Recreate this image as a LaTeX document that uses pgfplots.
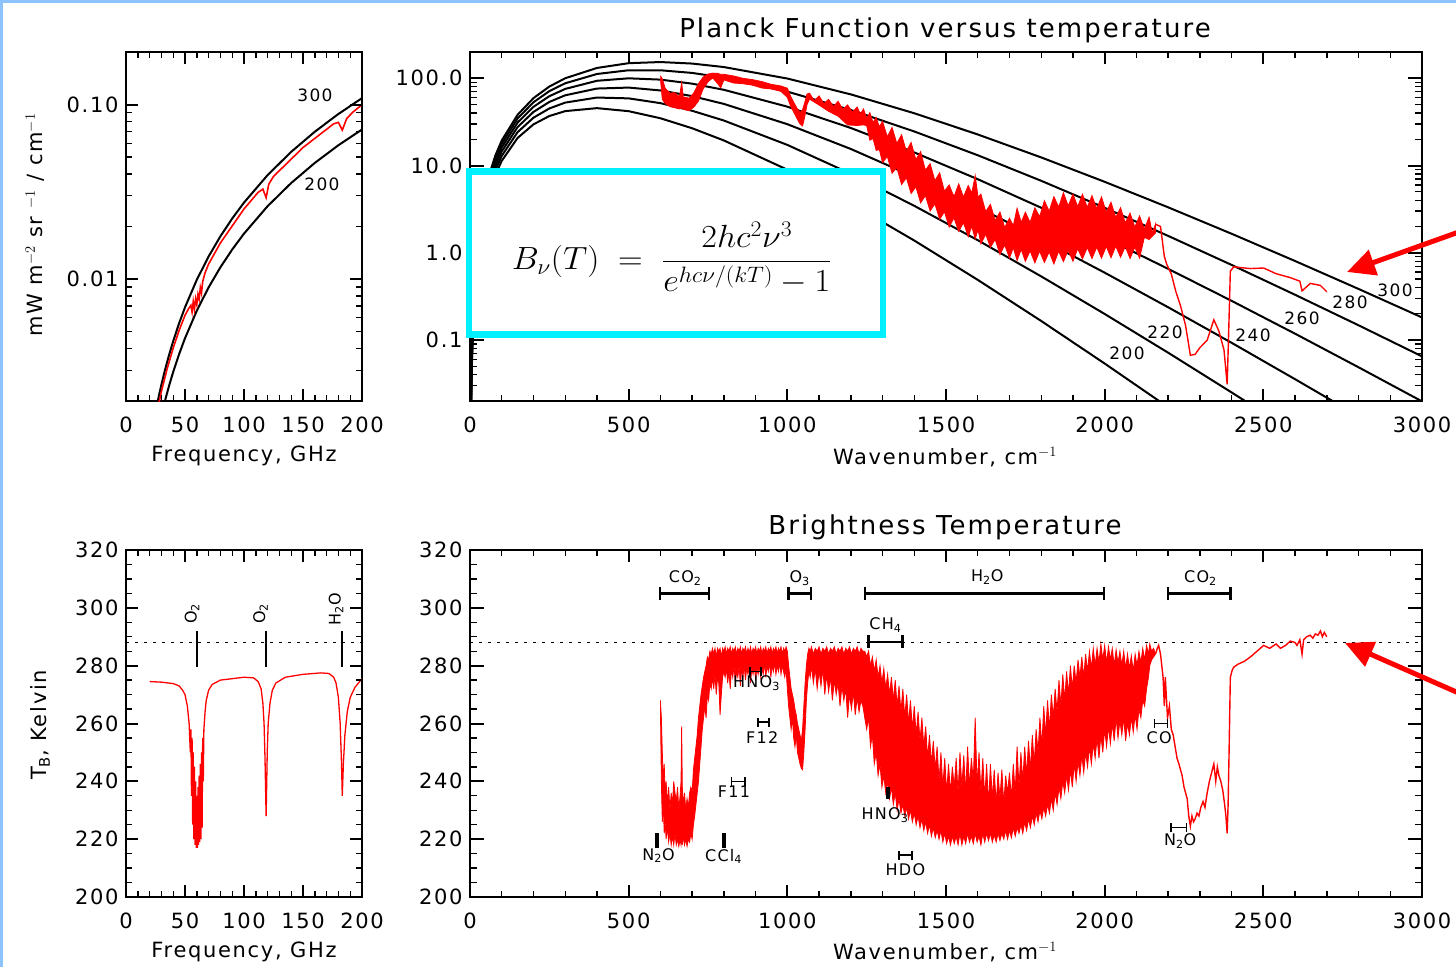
\documentclass[border=0pt]{standalone}
\usepackage{fontspec}
\setmainfont{DejaVu Sans}[LetterSpace=8]
\usepackage{pgfplots}
\pgfplotsset{compat=1.18}
\usetikzlibrary{arrows.meta}

\definecolor{framecol}{RGB}{140,195,250}
\definecolor{boxcyan}{RGB}{0,240,255}

\newcommand\tfs{\fontsize{21}{24}\selectfont}
\newcommand\ttfs{\fontsize{26}{30}\selectfont}
\newcommand\sfs{\fontsize{16}{18}\selectfont}
\newcommand\cfs{\fontsize{17}{19}\selectfont}

\pgfplotsset{
  idl/.style={scale only axis, anchor=south west,
    axis line style={line width=2.4pt},
    tick align=inside, xtick pos=both, ytick pos=both,
    major tick length=12pt, minor tick length=6pt,
    tick style={draw=black, line width=2pt},
    minor tick style={draw=black, line width=1.4pt},
    tick label style={font=\tfs},
    xticklabel style={yshift=-12pt}, yticklabel style={xshift=-4pt},
    /pgf/number format/assume math mode=true,
    /pgf/number format/1000 sep={}},
}
\tikzset{
  band/.style={arrows={Bar[width=13pt]-Bar[width=13pt]}, line width=2.5pt},
  mini/.style={arrows={Bar[width=9pt]-Bar[width=9pt]}, line width=1.6pt},
}

\begin{document}
\begin{tikzpicture}
\useasboundingbox (0pt,0pt) rectangle (1456pt,967pt);
\fill[framecol] (0pt,964pt) rectangle (1456pt,967pt);
\fill[framecol] (0pt,0pt) rectangle (3pt,967pt);

% ---------------- top left: Planck in GHz ----------------
\begin{axis}[idl, at={(126pt,566pt)}, width=236pt, height=349pt,
  xmin=0, xmax=200, xtick={0,50,100,150,200}, minor x tick num=4,
  ymode=log, ymin=0.002, ymax=0.2, ytick={0.01,0.1}, yticklabels={0.01,0.10},
  minor ytick={0.003,0.004,0.005,0.006,0.007,0.008,0.009,0.02,0.03,0.04,0.05,0.06,0.07,0.08,0.09}]
\addplot[black, line width=2pt] coordinates {
(25,0.001724)(28,0.0021616)(30,0.002481)(33,0.0030013)(36,0.003571)(40,0.004407)(45,0.0055757)
(50,0.006881)(60,0.0099)(70,0.013465)(80,0.017573)(90,0.022223)(100,0.027414)(120,0.039414)
(140,0.053561)(160,0.069846)(180,0.08826)(200,0.10879)};
\addplot[black, line width=2pt] coordinates {
(25,0.0011514)(30,0.001652)(32,0.001879)(34,0.002121)(37,0.002511)(40,0.002933)(45,0.00371)
(50,0.004578)(60,0.006585)(70,0.008952)(80,0.011678)(90,0.014762)(100,0.018204)(120,0.026151)
(140,0.03551)(160,0.046271)(180,0.058425)(200,0.071961)};
\addplot[red, line width=1.6pt] coordinates {
(25,0.001576)(30,0.002268)(35,0.003082)(40,0.004021)(45,0.005072)(50,0.00619)(53,0.006746)
(55,0.007069)(56,0.006461)(57,0.007441)(58,0.006712)(59,0.007714)(60,0.007148)(61,0.008176)
(62,0.007666)(63,0.008938)(64,0.008318)(65,0.009669)(67,0.01085)(70,0.01218)(80,0.0161)
(100,0.0252)(112,0.03141)(116,0.03275)(118.75,0.02925)(121,0.03495)(125,0.03872)(150,0.05667)
(176,0.07756)(180,0.07901)(183.3,0.07139)(187,0.08297)(192,0.09014)(200,0.09977)};
\end{axis}

% ---------------- top right: Planck vs wavenumber ----------------
\begin{axis}[idl, at={(470pt,566pt)}, width=952pt, height=349pt,
  xmin=0, xmax=3000, xtick={0,500,...,3000}, minor x tick num=4,
  ymode=log, ymin=0.02, ymax=200, ytick={0.1,1,10,100}, yticklabels={0.1,1.0,10.0,100.0},
  minor ytick={0.03,0.04,0.05,0.06,0.07,0.08,0.09,0.2,0.3,0.4,0.5,0.6,0.7,0.8,0.9,2,3,4,5,6,7,8,9,20,30,40,50,60,70,80,90}]
\addplot[black, line width=2pt] coordinates {(2,0.009886)(5,0.06134)(10,0.2424)(20,0.9465)(30,2.078)(40,3.605)(60,7.715)(80,13.04)(100,19.35)(150,38.16)(200,59.20)(250,80.32)(300,99.99)(400,131.2)(500,148.9)(600,153.4)(700,147.4)(800,134.4)(1000,99.25)(1200,65.38)(1400,39.71)(1600,22.69)(1800,12.38)(2000,6.505)(2200,3.318)(2400,1.651)(2600,0.8042)(2800,0.3849)(3000,0.1814)};
\addplot[black, line width=2pt] coordinates {(2,0.009224)(5,0.0572)(10,0.2259)(20,0.8803)(30,1.929)(40,3.340)(60,7.123)(80,11.99)(100,17.73)(150,34.61)(200,53.09)(250,71.21)(300,87.58)(400,111.9)(500,123.5)(600,123.5)(700,115.1)(800,101.6)(1000,70.28)(1200,43.29)(1400,24.56)(1600,13.11)(1800,6.681)(2000,3.279)(2200,1.561)(2400,0.7254)(2600,0.33)(2800,0.1475)(3000,0.06491)};
\addplot[black, line width=2pt] coordinates {(2,0.008561)(5,0.05307)(10,0.2093)(20,0.8142)(30,1.781)(40,3.076)(60,6.532)(80,10.95)(100,16.11)(150,31.08)(200,47.07)(250,62.27)(300,75.49)(400,93.55)(500,99.86)(600,96.47)(700,86.70)(800,73.75)(1000,47.25)(1200,26.92)(1400,14.12)(1600,6.967)(1800,3.28)(2000,1.487)(2200,0.6546)(2400,0.281)(2600,0.1181)(2800,0.04869)(3000,0.0198)};
\addplot[black, line width=2pt] coordinates {(2,0.007899)(5,0.04893)(10,0.1928)(20,0.748)(30,1.632)(40,2.813)(60,5.943)(80,9.909)(100,14.5)(150,27.57)(200,41.12)(250,53.54)(300,63.8)(400,76.22)(500,78.21)(600,72.49)(700,62.41)(800,50.81)(1000,29.75)(1200,15.47)(1400,7.402)(1600,3.331)(1800,1.43)(2000,0.5913)(2200,0.2373)(2400,0.09289)(2600,0.03555)(2800,0.01341)(3000,0.004972)};
\addplot[black, line width=2pt] coordinates {(2,0.007237)(5,0.04479)(10,0.1762)(20,0.6819)(30,1.484)(40,2.549)(60,5.354)(80,8.87)(100,12.9)(150,24.11)(200,35.31)(250,45.07)(300,52.6)(400,60.11)(500,58.82)(600,51.86)(700,42.41)(800,32.76)(1000,17.23)(1200,8.041)(1400,3.451)(1600,1.393)(1800,0.5361)(2000,0.1988)(2200,0.07155)(2400,0.02507)(2600,0.008632)(2800,0.002914)(3000,0.0009692)};
\addplot[black, line width=2pt] coordinates {(2,0.006575)(5,0.04065)(10,0.1597)(20,0.6158)(30,1.335)(40,2.286)(60,4.766)(80,7.837)(100,11.31)(150,20.7)(200,29.63)(250,36.92)(300,42.01)(400,45.45)(500,41.95)(600,34.8)(700,26.73)(800,19.37)(1000,8.952)(1200,3.668)(1400,1.381)(1600,0.4891)(1800,0.1652)(2000,0.05375)(2200,0.01697)(2400,0.005226)(2600,0.001576)(2800,0.000467)(3000,0.0001359)};
% observed radiance: upper edge, then lower edge backwards
\addplot[red, fill=red, line width=0.8pt] coordinates {
(600,106.9)(606,98.61)(615,76.88)(630,67.55)(645,68.31)(660,61.28)(667,89.11)(672,61.10)(690,59.16)
(705,67.51)(720,86.93)(735,103.3)(750,111.9)(765,114.5)(780,114.0)(790,110.9)(800,111.0)(830,106.3)
(860,99.91)(890,96.51)(920,91.52)(950,85.06)(980,81.57)(1000,76.93)(1010,62.54)(1020,53.14)(1030,45.65)
(1040,40.70)(1048,43.54)(1055,52.94)(1062,66.03)(1070,67.35)(1085,55.3)(1100,62.87)(1115,51.1)
(1130,57.42)(1145,47.5)(1160,54.47)(1175,44.1)(1190,49.50)(1205,40.9)(1220,46.83)(1230,38.8)
(1240,44.45)(1250,34.7)(1260,40.32)(1270,31.1)(1280,35.63)(1290,27.7)(1300,32.12)(1315,21.3)
(1330,27.34)(1345,17.9)(1360,22.52)(1375,14.6)(1390,18.38)(1405,11.7)(1420,14.43)(1435,8.86)
(1450,10.49)(1465,6.70)(1480,8.261)(1495,5.07)(1510,5.991)(1525,4.37)(1540,6.159)(1555,4.34)
(1570,5.899)(1581,4.84)(1592,7.674)(1601,4.32)(1610,4.702)(1625,2.96)(1640,3.587)(1655,2.34)
(1670,2.934)(1685,1.95)(1700,2.488)(1712,2.04)(1724,3.242)(1737,2.22)(1750,2.922)(1765,2.23)
(1780,3.282)(1795,2.59)(1810,3.955)(1825,3.00)(1840,4.399)(1855,3.34)(1870,4.879)(1885,3.45)
(1900,4.700)(1915,3.38)(1930,4.690)(1945,3.32)(1960,4.523)(1975,3.20)(1990,4.364)(2005,2.93)
(2020,3.790)(2035,2.54)(2050,3.286)(2065,2.20)(2080,2.842)(2095,1.97)(2110,2.646)(2125,1.87)
(2140,2.558)(2150,1.68)(2160,2.122)
(2160,1.676)(2140,1.416)(2125,1.50)(2110,0.8680)(2095,1.16)(2080,0.8575)(2065,1.18)(2050,0.8874)
(2035,1.19)(2020,0.8774)(2005,1.18)(1990,0.8675)(1975,1.16)(1960,0.8578)(1945,1.15)(1930,0.8484)
(1915,1.11)(1900,0.7995)(1885,1.07)(1870,0.7906)(1855,1.04)(1840,0.7439)(1825,1.02)(1810,0.7735)
(1795,1.04)(1780,0.7653)(1765,1.05)(1750,0.7969)(1737,1.09)(1724,0.8148)(1712,1.14)(1700,0.8687)
(1685,1.23)(1670,0.9533)(1655,1.42)(1640,1.155)(1625,1.63)(1610,1.267)(1601,1.83)(1592,1.446)
(1581,2.01)(1570,1.528)(1555,2.21)(1540,1.756)(1525,2.51)(1510,1.970)(1495,2.95)(1480,2.416)
(1465,3.64)(1450,3.012)(1435,4.52)(1420,3.729)(1405,5.70)(1390,4.773)(1375,7.25)(1360,6.051)
(1345,9.48)(1330,8.152)(1315,12.7)(1300,10.80)(1290,15.2)(1280,14.89)(1270,20.4)(1260,19.49)
(1250,28.6)(1240,29.22)(1220,28.76)(1190,29.18)(1160,36.77)(1130,41.79)(1100,49.31)(1070,57.64)
(1062,49.90)(1055,36.44)(1048,28.45)(1040,29.89)(1030,34.76)(1020,41.06)(1010,48.06)(1000,60.38)
(980,70.72)(950,75.32)(920,77.26)(890,83.32)(860,86.56)(830,88.29)(800,95.67)(790,77.68)(780,87.14)
(765,100.7)(750,91.26)(735,75.96)(720,54.81)(705,46.50)(690,42.50)(672,44.25)(667,45.64)(660,44.50)
(645,45.92)(630,47.31)(615,51.48)(606,57.16)(600,99.04)};
\addplot[red, line width=1.4pt] coordinates {
(2160,2.122)(2176,2.001)(2188,0.9044)(2196,0.7305)(2210,0.5710)(2224,0.3619)(2239,0.2468)(2255,0.1462)
(2270,0.06696)(2285,0.06837)(2300,0.08177)(2323,0.09939)(2344,0.1705)(2360,0.1262)(2376,0.07687)
(2386,0.03113)(2390,0.09741)(2396,0.6164)(2407,0.6909)(2430,0.6751)(2459,0.6590)(2501,0.6686)
(2540,0.5759)(2585,0.5183)(2615,0.4726)(2622,0.3655)(2648,0.4455)(2680,0.4219)(2700,0.3567)};
\end{axis}

% ---------------- bottom left: Tb in GHz ----------------
\begin{axis}[idl, at={(126pt,70pt)}, width=236pt, height=347pt,
  xmin=0, xmax=200, xtick={0,50,100,150,200}, minor x tick num=4,
  ymin=200, ymax=320, ytick={200,220,...,320}, minor y tick num=3]
\addplot[black, line width=1.5pt, dash pattern=on 3pt off 6pt] coordinates {(0,288)(200,288)};
\addplot[red, line width=1.3pt] coordinates {
(20,274.5)(30,274.3)(40,273.8)(45,273)(48,271.5)(50,270)(52,266)(53.5,260)(54.5,250)(55,258)
(55.5,235)(56,255)(56.5,225)(57,250)(57.5,220)(58,245)(58.5,218)(59,240)(59.5,217)(60,235)
(60.5,217)(61,238)(61.5,218)(62,242)(62.5,219)(63,246)(63.5,220)(64,250)(64.5,224)(65,255)
(65.5,240)(66,258)(67,264)(68,268)(70,271.5)(73,273.5)(80,275)(90,275.5)(100,276)(108,275.8)
(112,274.5)(114.5,272)(116,267)(117,260)(117.8,248)(118.4,235)(118.75,228)(119.1,236)(119.7,250)
(120.5,260)(122,267)(124,271.5)(127,274)(135,276)(150,277)(165,277.5)(172,277.3)(176,276)(178,274)
(180,269)(181.5,260)(182.5,248)(183.3,235)(184.2,246)(185.5,256)(187.5,264)(190,269)(194,272.5)(200,275.5)};
\draw[line width=2.2pt] (axis cs:60,279.5) -- (axis cs:60,292);
\draw[line width=2.2pt] (axis cs:118.75,279.5) -- (axis cs:118.75,292);
\draw[line width=2.2pt] (axis cs:183.3,279.5) -- (axis cs:183.3,292);
\node[rotate=90, font=\sfs] at (axis cs:56,298) {O\textsubscript{2}};
\node[rotate=90, font=\sfs] at (axis cs:114,298) {O\textsubscript{2}};
\node[rotate=90, font=\sfs] at (axis cs:178,299.5) {H\textsubscript{2}O};
\end{axis}

% ---------------- bottom right: Tb vs wavenumber ----------------
\begin{axis}[idl, at={(470pt,70pt)}, width=952pt, height=347pt,
  xmin=0, xmax=3000, xtick={0,500,...,3000}, minor x tick num=4,
  ymin=200, ymax=320, ytick={200,220,...,320}, minor y tick num=3]
\addplot[black, line width=1.5pt, dash pattern=on 3pt off 6pt] coordinates {(0,288)(3000,288)};
% spectrum band: upper edge, then lower edge backwards
\addplot[red, fill=red, line width=0.8pt] coordinates {
(600,268)(603,262)(606,250)(609,240)(612,246)(615,236)(618,240)(622,232)(626,238)(630,230)(634,236)
(638,232)(642,240)(646,236)(650,233)(654,238)(658,230)(662,235)(665,240)(667,259)(669,238)(672,232)
(676,236)(680,230)(684,234)(688,231)(692,236)(696,238)(700,236)(704,244)(708,248)(712,252)(716,256)
(720,262)(724,266)(728,270)(732,273)(736,276)(740,278)(744,280)(748,283)(752,282)(756,285)(760,284)
(764,286)(768,284)(772,286)(776,283)(780,286)(784,285)(788,286)(792,283)(796,286)(800,285)
(804,286.5)(808,284)(812,286)(816,285)(820,286.5)(824,284)(828,286)(832,285)(836,286.5)(840,284)
(844,286)(848,285)(852,286.5)(856,284)(860,286)(864,285)(868,286.5)(872,284)(876,286)(880,284.5)
(884,286.5)(888,284)(892,286)(896,285)(900,286.5)(904,284)(908,286)(912,285)(916,286.5)(920,284)
(924,286)(928,285)(932,286.5)(936,284)(940,286)(944,285)(948,286.5)(952,284)(956,286)(960,285)
(964,286.5)(968,284)(972,286)(976,285)(980,286.5)(984,284)(988,286)(992,285)(996,286.5)(1000,285)
(1004,280)(1008,276)(1012,272)(1016,270)(1020,268)(1024,265)(1028,263)(1032,260)(1036,258)(1040,256)
(1044,254)(1048,258)(1052,266)(1056,274)(1060,280)(1064,284)(1068,286)(1072,285)(1076,286.5)
(1082,284)(1088,286)(1094,285)(1100,286.5)(1106,284)(1112,286)(1118,285)(1124,286.5)(1130,284)
(1136,286)(1142,285)(1148,286.5)(1154,284)(1160,286)(1166,285)(1172,286.5)(1178,284)(1184,286)
(1190,285)(1196,286.5)(1202,284)(1208,286)(1214,285)(1220,286.5)(1226,284)(1232,286)(1238,285)
(1244,285)(1250,283)(1256,285)(1262,280)(1268,283)(1274,278)(1280,282)(1286,276)(1292,280)(1298,274)
(1304,279)(1310,272)(1316,277)(1322,270)(1328,276)(1334,268)(1340,275)(1346,266)(1352,273)(1358,264)
(1364,272)(1370,262)(1376,270)(1382,260)(1388,268)(1394,258)(1400,266)(1406,256)(1412,264)(1418,254)
(1424,262)(1430,252)(1436,259)(1442,248)(1448,256)(1454,246)(1460,254)(1466,244)(1472,252)(1478,240)
(1484,250)(1490,238)(1496,248)(1502,236)(1508,246)(1514,236)(1520,245)(1526,238)(1532,248)(1538,236)
(1544,250)(1550,238)(1556,249)(1562,236)(1568,252)(1574,238)(1580,248)(1586,240)(1592,262)(1598,238)
(1604,250)(1610,236)(1616,248)(1622,234)(1628,246)(1634,232)(1640,246)(1646,234)(1652,244)(1658,232)
(1664,243)(1670,234)(1676,244)(1682,232)(1688,242)(1694,236)(1700,243)(1706,234)(1712,246)(1718,236)
(1724,252)(1730,238)(1736,250)(1742,240)(1748,252)(1754,242)(1760,254)(1766,244)(1772,256)(1778,246)
(1784,258)(1790,250)(1796,262)(1802,252)(1808,266)(1814,256)(1820,268)(1826,258)(1832,270)(1838,262)
(1844,272)(1850,264)(1856,275)(1862,266)(1868,277)(1874,268)(1880,278)(1886,270)(1892,280)(1898,272)
(1904,280)(1910,274)(1916,282)(1922,276)(1928,283)(1934,276)(1940,284)(1946,278)(1952,285)(1958,279)
(1964,286)(1970,280)(1976,286)(1982,281)(1988,287.5)(1994,282)(2000,287)(2006,281)(2012,286.5)
(2018,282)(2024,286)(2030,280)(2036,285.5)(2042,281)(2048,285)(2054,280)(2060,285)(2066,279)
(2072,284)(2078,279)(2084,283.5)(2090,278)(2096,284)(2102,280)(2108,285)(2114,281)(2120,286)
(2126,282)(2132,287)(2138,284)(2142,287.5)(2148,285)(2154,286)(2160,284)
(2154,283)(2148,282)(2142,280)(2138,276)(2132,272)(2126,266)(2120,268)(2114,262)(2108,265)
(2102,258)(2096,263)(2090,257)(2084,262)(2078,256)(2072,260)(2066,254)(2060,262)(2054,256)(2048,261)
(2042,255)(2036,262)(2030,254)(2024,260)(2018,253)(2012,259)(2006,252)(2000,258)(1994,250)(1988,256)
(1982,248)(1976,255)(1970,248)(1964,253)(1958,246)(1952,252)(1946,245)(1940,250)(1934,243)(1928,249)
(1922,242)(1916,247)(1910,240)(1904,246)(1898,238)(1892,244)(1886,237)(1880,242)(1874,236)(1868,240)
(1862,234)(1856,238)(1850,232)(1844,236)(1838,230)(1832,234)(1826,229)(1820,232)(1814,228)(1808,231)
(1802,227)(1796,230)(1790,226)(1784,229)(1778,225)(1772,228)(1766,224)(1760,227)(1754,223)(1748,226)
(1742,222)(1736,225)(1730,222)(1724,224)(1718,221)(1712,224)(1706,220.5)(1700,223)(1694,220)(1688,223)
(1682,220)(1676,222)(1670,219.5)(1664,222)(1658,219)(1652,221.5)(1646,219)(1640,222)(1634,219.5)
(1628,222)(1622,219)(1616,222)(1610,218)(1604,221)(1598,219)(1592,222)(1586,218.5)(1580,221)
(1574,219)(1568,222)(1562,218.5)(1556,221)(1550,218)(1544,222)(1538,218)(1532,221)(1526,218.5)
(1520,221)(1514,218)(1508,221)(1502,218.5)(1496,222)(1490,219)(1484,223)(1478,220)(1472,223)
(1466,220.5)(1460,224)(1454,221)(1448,225)(1442,222)(1436,226)(1430,223)(1424,227)(1418,224)(1412,228)
(1406,225)(1400,229)(1394,226)(1388,230)(1382,227)(1376,231)(1370,228)(1364,232)(1358,229)(1352,234)
(1346,230)(1340,236)(1334,232)(1328,238)(1322,234)(1316,240)(1310,236)(1304,242)(1298,238)(1292,246)
(1286,242)(1280,250)(1274,246)(1268,256)(1262,252)(1256,262)(1250,258)(1244,262)(1238,266)(1232,268)
(1226,264)(1220,269)(1214,263)(1208,271)(1202,265)(1196,270)(1190,262)(1184,272)(1178,268)(1172,273)
(1166,266)(1160,274)(1154,270)(1148,275)(1142,268)(1136,276)(1130,271)(1124,277)(1118,270)(1112,279)
(1106,273)(1100,278)(1094,272)(1088,279)(1082,274)(1076,280)(1072,276)(1068,278)(1064,274)(1060,268)
(1056,258)(1052,250)(1048,244)(1044,244.5)(1040,246)(1036,248)(1032,250)(1028,256)(1024,252)(1020,255)
(1016,262)(1012,258)(1008,262)(1004,266)(1000,272)(996,279)(992,276)(988,278)(984,280)(980,277)
(976,281)(972,278)(968,280)(964,277)(960,281)(956,278)(952,280)(948,276)(944,281)(940,278)(936,280)
(932,276)(928,281)(924,277)(920,279)(916,276)(912,280)(908,277)(904,279)(900,275)(896,280)(892,277)
(888,279)(884,274)(880,280)(876,277)(872,279)(868,275)(864,280)(860,276)(856,279)(852,273)(848,280)
(844,276)(840,278)(836,274)(832,280)(828,276)(824,279)(820,272)(816,278)(812,274)(808,279)(804,276)
(800,278)(796,276)(792,270)(788,263)(784,274)(780,276)(776,270)(772,277)(768,272)(764,276)
(760,272)(756,274)(752,268)(748,270)(744,262)(740,266)(736,262)(732,258)(728,252)(724,246)(720,240)
(716,236)(712,232)(708,228)(704,225)(700,220)(696,222)(692,219)(688,220)(684,217.5)(680,220)(676,218)
(672,221)(669,218)(667,221)(665,218)(662,220)(658,217.5)(654,220)(650,218)(646,222)(642,218)(638,221)
(634,218)(630,222)(626,219)(622,224)(618,220)(615,226)(612,222)(609,232)(606,226)(603,240)(600,266)};
\addplot[red, line width=1.4pt] coordinates {
(2160,284)(2166,286)(2170,287)(2176,284)(2180,280)(2184,276)(2188,266)(2191,276)(2194,270)(2198,262)
(2204,266)(2210,258)(2216,256)(2222,252)(2228,248)(2234,246)(2239,244)(2244,242)(2250,238)(2255,236)
(2260,234)(2265,228)(2270,224.5)(2275,228)(2280,226)(2285,227)(2291,229)(2297,228)(2303,231)(2310,233)
(2316,231)(2323,236)(2330,240)(2337,243)(2344,246)(2350,240)(2355,245)(2360,242)(2366,240)(2372,237)
(2378,232)(2382,228)(2386,222)(2389,232)(2392,250)(2396,276)(2402,278.5)(2407,279.5)(2420,280.5)
(2440,281.5)(2459,283)(2480,285)(2501,287)(2520,286)(2540,287.5)(2554,286)(2570,287)(2585,288.5)
(2600,288)(2606,287)(2615,289)(2622,284)(2627,289)(2636,290)(2648,290.5)(2656,289.5)(2664,291)
(2672,290.5)(2680,292)(2686,290)(2692,291.5)(2700,290)};
\draw[band] (axis cs:595,305) -- (axis cs:757,305);
\draw[band] (axis cs:999,305) -- (axis cs:1078,305);
\draw[band] (axis cs:1240,305) -- (axis cs:2002,305);
\draw[band] (axis cs:2196,305) -- (axis cs:2401,305);
\draw[band] (axis cs:1252,288.2) -- (axis cs:1367,288.2);
\node[font=\sfs] at (axis cs:678,310.3) {CO\textsubscript{2}};
\node[font=\sfs] at (axis cs:1039,310.3) {O\textsubscript{3}};
\node[font=\sfs] at (axis cs:1630,310.6) {H\textsubscript{2}O};
\node[font=\sfs] at (axis cs:2302,310.3) {CO\textsubscript{2}};
\node[font=\sfs] at (axis cs:1309,294) {CH\textsubscript{4}};
\draw[mini] (axis cs:880,278) -- (axis cs:920,278);
\node[font=\sfs] at (axis cs:903,274) {HNO\textsubscript{3}};
\draw[mini] (axis cs:905,260.5) -- (axis cs:945,260.5);
\node[font=\sfs] at (axis cs:921,255.3) {F12};
\draw[mini] (axis cs:822,240) -- (axis cs:870,240);
\node[font=\sfs] at (axis cs:832,236.3) {F11};
\draw[line width=4pt] (axis cs:590,217) -- (axis cs:590,222);
\node[font=\sfs] at (axis cs:594,214.3) {N\textsubscript{2}O};
\draw[line width=4pt] (axis cs:800,217) -- (axis cs:800,222);
\node[font=\sfs] at (axis cs:799,214) {CCl\textsubscript{4}};
\draw[line width=4pt] (axis cs:1318,234) -- (axis cs:1318,238);
\node[font=\sfs] at (axis cs:1308,228.4) {HNO\textsubscript{3}};
\draw[mini] (axis cs:1350,214.5) -- (axis cs:1395,214.5);
\node[font=\sfs] at (axis cs:1372,209.3) {HDO};
\draw[mini] (axis cs:2155,260) -- (axis cs:2200,260);
\node[font=\sfs] at (axis cs:2172,255) {CO};
\draw[mini] (axis cs:2207,224) -- (axis cs:2260,224);
\node[font=\sfs] at (axis cs:2238,219.4) {N\textsubscript{2}O};
\end{axis}

% ---------------- IDL-style tick marks on all frames ----------------
% top left (x: 126..362, y: 566..915, log 0.002..0.2)
\foreach \f in {0,50,...,200}{\draw[line width=2pt] ({(126+1.18*\f)*1pt},566pt) -- ++(0pt,12pt) ({(126+1.18*\f)*1pt},915pt) -- ++(0pt,-12pt);}
\foreach \f in {10,20,...,190}{\draw[line width=1.4pt] ({(126+1.18*\f)*1pt},566pt) -- ++(0pt,6pt) ({(126+1.18*\f)*1pt},915pt) -- ++(0pt,-6pt);}
\foreach \y in {687.97,862.47}{\draw[line width=2pt] (126pt,{\y*1pt}) -- ++(12pt,0pt) (362pt,{\y*1pt}) -- ++(-12pt,0pt);}
\foreach \e/\l in {0/0.47712,0/0.60206,0/0.69897,0/0.77815,0/0.84510,0/0.90309,0/0.95424,
  1/0.30103,1/0.47712,1/0.60206,1/0.69897,1/0.77815,1/0.84510,1/0.90309,1/0.95424}{
  \draw[line width=1.4pt] (126pt,{(566+174.5*(\e+\l-0.30103))*1pt}) -- ++(6pt,0pt) (362pt,{(566+174.5*(\e+\l-0.30103))*1pt}) -- ++(-6pt,0pt);}
% top right (x: 470..1422, y: 566..915, log 0.02..200)
\foreach \n in {0,500,...,3000}{\draw[line width=2pt] ({(470+0.317333*\n)*1pt},566pt) -- ++(0pt,12pt) ({(470+0.317333*\n)*1pt},915pt) -- ++(0pt,-12pt);}
\foreach \n in {100,200,...,2900}{\draw[line width=1.4pt] ({(470+0.317333*\n)*1pt},566pt) -- ++(0pt,6pt) ({(470+0.317333*\n)*1pt},915pt) -- ++(0pt,-6pt);}
\foreach \y in {626.99,714.24,801.49,888.74}{\draw[line width=2pt] (470pt,{\y*1pt}) -- ++(14pt,0pt) (1422pt,{\y*1pt}) -- ++(-14pt,0pt);}
\foreach \e/\l in {0/0.47712,0/0.60206,0/0.69897,0/0.77815,0/0.84510,0/0.90309,0/0.95424,
  1/0.30103,1/0.47712,1/0.60206,1/0.69897,1/0.77815,1/0.84510,1/0.90309,1/0.95424,
  2/0.30103,2/0.47712,2/0.60206,2/0.69897,2/0.77815,2/0.84510,2/0.90309,2/0.95424,
  3/0.30103,3/0.47712,3/0.60206,3/0.69897,3/0.77815,3/0.84510,3/0.90309,3/0.95424}{
  \draw[line width=1.4pt] (470pt,{(566+87.25*(\e+\l-0.30103))*1pt}) -- ++(7pt,0pt) (1422pt,{(566+87.25*(\e+\l-0.30103))*1pt}) -- ++(-7pt,0pt);}
% bottom left (x: 126..362, y: 70..417, 200..320 K)
\foreach \f in {0,50,...,200}{\draw[line width=2pt] ({(126+1.18*\f)*1pt},70pt) -- ++(0pt,12pt) ({(126+1.18*\f)*1pt},417pt) -- ++(0pt,-12pt);}
\foreach \f in {10,20,...,190}{\draw[line width=1.4pt] ({(126+1.18*\f)*1pt},70pt) -- ++(0pt,6pt) ({(126+1.18*\f)*1pt},417pt) -- ++(0pt,-6pt);}
\foreach \t in {200,220,...,320}{\draw[line width=2pt] (126pt,{(70+2.891667*(\t-200))*1pt}) -- ++(12pt,0pt) (362pt,{(70+2.891667*(\t-200))*1pt}) -- ++(-12pt,0pt);}
\foreach \t in {205,210,...,315}{\draw[line width=1.4pt] (126pt,{(70+2.891667*(\t-200))*1pt}) -- ++(6pt,0pt) (362pt,{(70+2.891667*(\t-200))*1pt}) -- ++(-6pt,0pt);}
% bottom right (x: 470..1422, y: 70..417, 200..320 K)
\foreach \n in {0,500,...,3000}{\draw[line width=2pt] ({(470+0.317333*\n)*1pt},70pt) -- ++(0pt,12pt) ({(470+0.317333*\n)*1pt},417pt) -- ++(0pt,-12pt);}
\foreach \n in {100,200,...,2900}{\draw[line width=1.4pt] ({(470+0.317333*\n)*1pt},70pt) -- ++(0pt,6pt) ({(470+0.317333*\n)*1pt},417pt) -- ++(0pt,-6pt);}
\foreach \t in {200,220,...,320}{\draw[line width=2pt] (470pt,{(70+2.891667*(\t-200))*1pt}) -- ++(14pt,0pt) (1422pt,{(70+2.891667*(\t-200))*1pt}) -- ++(-14pt,0pt);}
\foreach \t in {205,210,...,315}{\draw[line width=1.4pt] (470pt,{(70+2.891667*(\t-200))*1pt}) -- ++(7pt,0pt) (1422pt,{(70+2.891667*(\t-200))*1pt}) -- ++(-7pt,0pt);}

\node[font=\cfs] at (315pt,872pt) {300};
\node[font=\cfs] at (322pt,783pt) {200};
\node[font=\cfs] at (1127pt,614pt) {200};
\node[font=\cfs] at (1165pt,635pt) {220};
\node[font=\cfs] at (1253pt,632pt) {240};
\node[font=\cfs] at (1302pt,649pt) {260};
\node[font=\cfs] at (1350pt,665pt) {280};
\node[font=\cfs] at (1395pt,677pt) {300};
\node[font=\ttfs] at (945pt,937pt) {Planck Function versus temperature};
\node[font=\ttfs] at (945pt,440pt) {Brightness Temperature};
\node[font=\tfs] at (244pt,511pt) {Frequency, GHz};
\node[font=\tfs] at (244pt,15pt) {Frequency, GHz};
\node[font=\tfs] at (945pt,510pt) {Wavenumber, cm$^{-1}$};
\node[font=\tfs] at (945pt,15pt) {Wavenumber, cm$^{-1}$};
\node[font=\tfs, rotate=90] at (35pt,742pt) {mW m$^{-2}$ sr $^{-1}$ / cm$^{-1}$};
\node[font=\tfs, rotate=90] at (40pt,242pt) {T\textsubscript{B}, Kelvin};

\draw[boxcyan, line width=6.5pt, fill=white] (469pt,795.5pt) rectangle (883pt,632.5pt);
\node at (672pt,709pt) {\fontsize{24}{29}\selectfont\scalebox{1.37}[1.29]{$\displaystyle B_\nu(T)\;=\;\frac{2hc^2\nu^3}{e^{hc\nu/(kT)}-1}$}};

\draw[red, line width=5pt, -{Triangle[length=28pt,width=26pt]}] (1470pt,739pt) -- (1347pt,695pt);
\draw[red, line width=5pt, -{Triangle[length=28pt,width=26pt]}] (1470pt,269pt) -- (1345pt,324pt);
\end{tikzpicture}
\end{document}
